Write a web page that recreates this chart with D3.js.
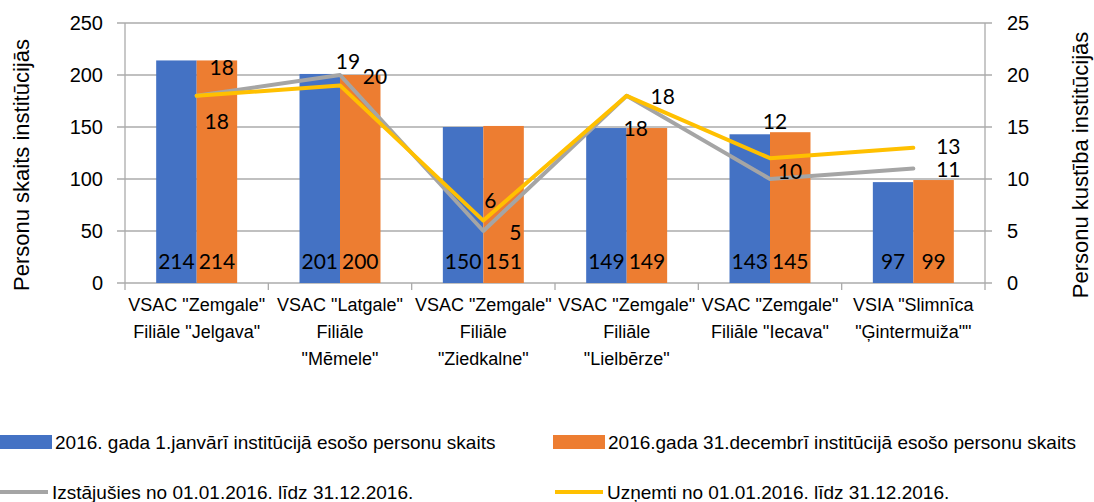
<!DOCTYPE html>
<html>
<head>
<meta charset="utf-8">
<script src="https://cdn.jsdelivr.net/npm/d3@7"></script>
<style>
  body { margin: 0; background: #fff; }
  svg { display: block; }
</style>
</head>
<body>
<div id="chart"></div>
<script>
// Data
const categories = [
    ['VSAC "Zemgale"', 'Filiāle "Jelgava"'],
    ['VSAC "Latgale"', 'Filiāle', '"Mēmele"'],
    ['VSAC "Zemgale"', 'Filiāle', '"Ziedkalne"'],
    ['VSAC "Zemgale"', 'Filiāle', '"Lielbērze"'],
    ['VSAC "Zemgale"', 'Filiāle "Iecava"'],
    ['VSIA "Slimnīca', '"Ģintermuiža""']
];
const startCounts = [214, 201, 150, 149, 143, 97];
const endCounts = [214, 200, 151, 149, 145, 99];
const leftCounts = [18, 20, 5, 18, 10, 11];
const admittedCounts = [18, 19, 6, 18, 12, 13];
const leftTicks = [0, 50, 100, 150, 200, 250];
const rightTicks = [0, 5, 10, 15, 20, 25];

const barSeries = [
    {name: '2016. gada 1.janvārī institūcijā esošo personu skaits', values: startCounts, color: '#4472C4'},
    {name: '2016.gada 31.decembrī institūcijā esošo personu skaits', values: endCounts, color: '#ED7D31'}
];
const lineSeries = [
    {name: 'Izstājušies no 01.01.2016. līdz 31.12.2016.', values: leftCounts, color: '#A5A5A5',
     // label offsets from the point (dx, dy)
     offsets: [[20, 26], [35, 2], [32, 2], [9, 33], [20, -7], [35, 1]]},
    {name: 'Uzņemti no 01.01.2016. līdz 31.12.2016.', values: admittedCounts, color: '#FFC000',
     offsets: [[25, -28], [8, -23], [7, -20], [36, 1], [5, -36], [35, -1]]}
];

function createChart() {
    const width = 1094, height = 502;
    const plot = {left: 125, right: 985, top: 23, bottom: 283};

    const svg = d3.select('#chart').append('svg')
        .attr('width', width)
        .attr('height', height);

    const idx = d3.range(categories.length);
    const x0 = d3.scaleBand().domain(idx).range([plot.left, plot.right]);
    const x1 = d3.scaleBand().domain([0, 1]).range([0, x0.bandwidth()]).paddingOuter(0.77);
    const yLeft = d3.scaleLinear().domain([0, 250]).range([plot.bottom, plot.top]);
    const yRight = d3.scaleLinear().domain([0, 25]).range([plot.bottom, plot.top]);

    // Gridlines
    svg.append('g').selectAll('line')
        .data(leftTicks)
        .enter().append('line')
        .attr('x1', plot.left - 8)
        .attr('x2', plot.right + 7)
        .attr('y1', d => yLeft(d))
        .attr('y2', d => yLeft(d))
        .attr('stroke', '#ababab')
        .attr('stroke-width', 1.3);

    // Left and right axis lines
    svg.append('line')
        .attr('x1', plot.left).attr('x2', plot.left)
        .attr('y1', plot.top).attr('y2', plot.bottom)
        .attr('stroke', '#ababab').attr('stroke-width', 1.3);
    svg.append('line')
        .attr('x1', plot.right).attr('x2', plot.right)
        .attr('y1', plot.top).attr('y2', plot.bottom + 7)
        .attr('stroke', '#ababab').attr('stroke-width', 1.3);

    // Category tick marks
    svg.append('g').selectAll('line')
        .data(d3.range(categories.length))
        .enter().append('line')
        .attr('x1', d => x0(d))
        .attr('x2', d => x0(d))
        .attr('y1', plot.bottom)
        .attr('y2', plot.bottom + 7)
        .attr('stroke', '#ababab')
        .attr('stroke-width', 1.3);

    // Left tick labels
    svg.append('g').selectAll('text')
        .data(leftTicks)
        .enter().append('text')
        .attr('x', 103)
        .attr('y', d => yLeft(d) + 7)
        .attr('text-anchor', 'end')
        .style('font-family', 'Liberation Sans, Arial, sans-serif')
        .style('font-size', '20px')
        .text(d => d);

    // Right tick labels
    svg.append('g').selectAll('text')
        .data(rightTicks)
        .enter().append('text')
        .attr('x', 1007)
        .attr('y', d => yRight(d) + 7)
        .attr('text-anchor', 'start')
        .style('font-family', 'Liberation Sans, Arial, sans-serif')
        .style('font-size', '20px')
        .text(d => d);

    // Axis titles
    svg.append('text')
        .attr('transform', `translate(29,${(plot.top + plot.bottom) / 2 + 12}) rotate(-90)`)
        .attr('text-anchor', 'middle')
        .style('font-family', 'Liberation Sans, Arial, sans-serif')
        .style('font-size', '22px')
        .text('Personu skaits institūcijās');
    svg.append('text')
        .attr('transform', `translate(1088,${(plot.top + plot.bottom) / 2 + 12}) rotate(-90)`)
        .attr('text-anchor', 'middle')
        .style('font-family', 'Liberation Sans, Arial, sans-serif')
        .style('font-size', '22px')
        .text('Personu kustība institūcijās');

    // Bars
    barSeries.forEach((s, si) => {
        const g = svg.append('g');
        g.selectAll('rect')
            .data(s.values)
            .enter().append('rect')
            .attr('x', (d, i) => x0(i) + x1(si))
            .attr('y', d => yLeft(d))
            .attr('width', x1.bandwidth())
            .attr('height', d => plot.bottom - yLeft(d))
            .attr('fill', s.color);
        g.selectAll('text')
            .data(s.values)
            .enter().append('text')
            .attr('x', (d, i) => x0(i) + x1(si) + x1.bandwidth() / 2)
            .attr('y', plot.bottom - 14)
            .attr('text-anchor', 'middle')
            .style('font-family', 'Lato, sans-serif')
            .style('font-size', '21px')
            .text(d => d);
    });

    // Lines
    const cx = i => x0(i) + x0.bandwidth() / 2;
    lineSeries.forEach(s => {
        const line = d3.line()
            .x((d, i) => cx(i))
            .y(d => yRight(d));
        svg.append('path')
            .datum(s.values)
            .attr('d', line)
            .attr('fill', 'none')
            .attr('stroke', s.color)
            .attr('stroke-width', 4)
            .attr('stroke-linejoin', 'round')
            .attr('stroke-linecap', 'round');
    });

    // Line labels
    lineSeries.forEach(s => {
        svg.append('g').selectAll('text')
            .data(s.values)
            .enter().append('text')
            .attr('x', (d, i) => cx(i) + s.offsets[i][0])
            .attr('y', (d, i) => yRight(d) + s.offsets[i][1] + 7)
            .attr('text-anchor', 'middle')
            .style('font-family', 'Lato, sans-serif')
            .style('font-size', '21px')
            .text(d => d);
    });

    // Category labels
    const catG = svg.append('g')
        .style('font-family', 'Liberation Sans Narrow, Arial Narrow, sans-serif')
        .style('font-size', '18px');
    categories.forEach((lines, i) => {
        lines.forEach((t, li) => {
            catG.append('text')
                .attr('x', cx(i))
                .attr('y', 311 + li * 27)
                .attr('text-anchor', 'middle')
                .text(t);
        });
    });

    // Legend
    const legendItems = [
        {s: barSeries[0], type: 'rect', x: 0, y: 442},
        {s: barSeries[1], type: 'rect', x: 553, y: 442},
        {s: lineSeries[0], type: 'line', x: 0, y: 492},
        {s: lineSeries[1], type: 'line', x: 555, y: 492}
    ];
    const legend = svg.append('g')
        .style('font-family', 'Liberation Sans Narrow, Arial Narrow, sans-serif')
        .style('font-size', '19px');
    legendItems.forEach(item => {
        if (item.type === 'rect') {
            legend.append('rect')
                .attr('x', item.x).attr('y', item.y - 7)
                .attr('width', 52).attr('height', 14)
                .attr('fill', item.s.color);
        } else {
            legend.append('line')
                .attr('x1', item.x).attr('x2', item.x + 48)
                .attr('y1', item.y).attr('y2', item.y)
                .attr('stroke', item.s.color)
                .attr('stroke-width', 4);
        }
        legend.append('text')
            .attr('x', item.x + (item.type === 'rect' ? 55 : 52))
            .attr('y', item.y + 7)
            .text(item.s.name);
    });
}

createChart();
</script>
</body>
</html>
